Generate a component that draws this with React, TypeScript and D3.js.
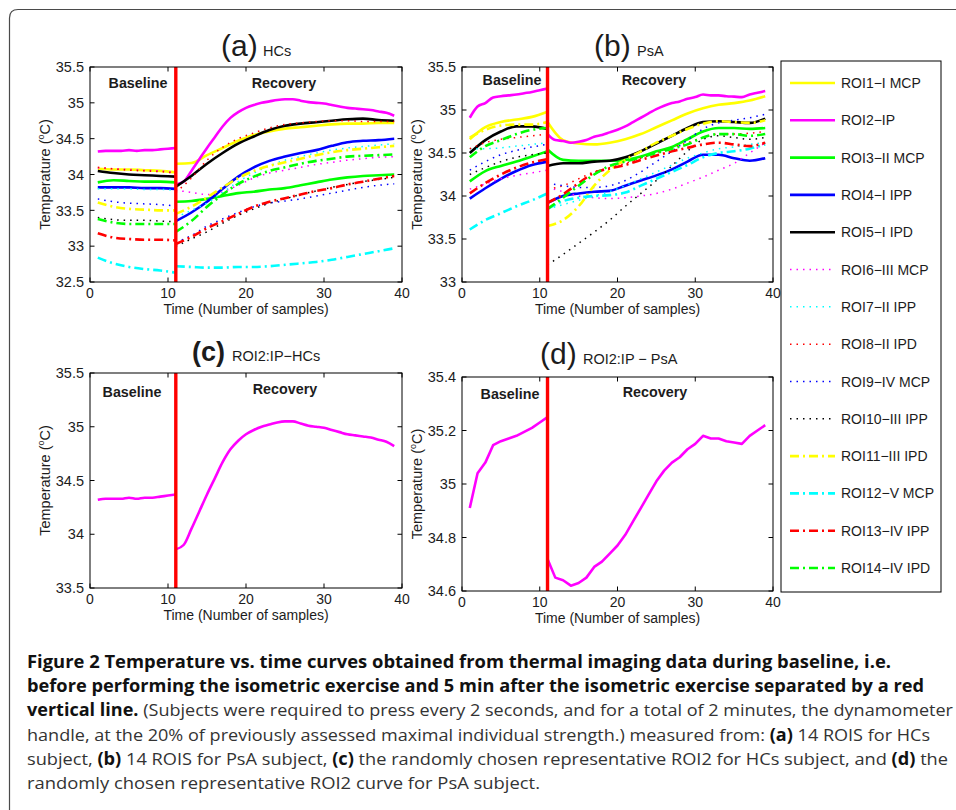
import * as d3 from "d3"

// ---- data ----
const sampleBase = [1, 2, 3, 4, 5, 6, 7, 8, 9, 10, 11]
const sampleRec = [11, 12, 13, 14, 15, 16, 17, 18, 19, 20, 21, 22, 23, 24, 25, 26, 27, 28, 29, 30, 31, 32, 33, 34, 35, 36, 37, 38, 39]
const knotBase = [1, 3, 5, 7, 9, 11]
const knotRec = [11, 13, 15, 17, 19, 21, 23, 25, 27, 29, 31, 33, 35, 37, 39]

const roiNames = [
	"ROI1−I MCP",
	"ROI2−IP",
	"ROI3−II MCP",
	"ROI4−I IPP",
	"ROI5−I IPD",
	"ROI6−III MCP",
	"ROI7−II IPP",
	"ROI8−II IPD",
	"ROI9−IV MCP",
	"ROI10−III IPP",
	"ROI11−III IPD",
	"ROI12−V MCP",
	"ROI13−IV IPP",
	"ROI14−IV IPD",
]

const hcTicks = [32.5, 33, 33.5, 34, 34.5, 35, 35.5]
const psaTicks = [33, 33.5, 34, 34.5, 35, 35.5]
const hcRoi2Ticks = [33.5, 34, 34.5, 35, 35.5]
const psaRoi2Ticks = [34.6, 34.8, 35, 35.2, 35.4]
const timeTicks = [0, 10, 20, 30, 40]

// ROI2 is read at every sample (panels c and d), the others at knotBase / knotRec
const hcRoi2Baseline = [34.32, 34.33, 34.33, 34.33, 34.34, 34.33, 34.34, 34.34, 34.35, 34.36, 34.37]
const hcRoi2Recovery = [
	33.86, 33.9, 34.05, 34.21, 34.37, 34.52, 34.67, 34.79, 34.87, 34.93, 34.97, 35.0, 35.02, 35.04, 35.05,
	35.05, 35.03, 35.01, 35.0, 34.99, 34.97, 34.95, 34.93, 34.92, 34.91, 34.9, 34.88, 34.86, 34.82,
]
const psaRoi2Baseline = [34.91, 35.04, 35.08, 35.145, 35.16, 35.17, 35.18, 35.195, 35.21, 35.23, 35.25]
const psaRoi2Recovery = [
	34.72, 34.65, 34.64, 34.62, 34.63, 34.65, 34.69, 34.71, 34.74, 34.77, 34.81, 34.86, 34.91, 34.96, 35.01,
	35.05, 35.08, 35.1, 35.13, 35.15, 35.18, 35.17, 35.17, 35.16, 35.155, 35.15, 35.18, 35.2, 35.22,
]

const hcBaseline = [
	[34.08, 34.07, 34.07, 34.06, 34.05, 34.03],
	null,
	[33.89, 33.92, 33.91, 33.9, 33.9, 33.89],
	[33.82, 33.82, 33.82, 33.81, 33.81, 33.8],
	[34.05, 34.02, 34.0, 33.99, 33.98, 33.97],
	[34.09, 34.08, 34.07, 34.06, 34.05, 34.03],
	[33.8, 33.8, 33.8, 33.79, 33.79, 33.78],
	[34.1, 34.08, 34.06, 34.05, 34.04, 34.02],
	[33.66, 33.62, 33.6, 33.59, 33.58, 33.56],
	[33.4, 33.37, 33.36, 33.36, 33.35, 33.34],
	[33.61, 33.55, 33.52, 33.51, 33.5, 33.5],
	[32.84, 32.76, 32.71, 32.68, 32.66, 32.63],
	[33.18, 33.12, 33.1, 33.09, 33.09, 33.08],
	[33.38, 33.33, 33.31, 33.31, 33.31, 33.31],
]

const hcRecovery = [
	[34.15, 34.16, 34.27, 34.37, 34.47, 34.55, 34.6, 34.64, 34.66, 34.68, 34.7, 34.71, 34.71, 34.72, 34.72],
	null,
	[33.62, 33.63, 33.66, 33.7, 33.74, 33.76, 33.79, 33.81, 33.85, 33.89, 33.93, 33.96, 33.98, 33.99, 34.0],
	[33.35, 33.47, 33.62, 33.8, 33.97, 34.1, 34.19, 34.25, 34.3, 34.34, 34.4, 34.45, 34.47, 34.48, 34.5],
	[33.83, 33.98, 34.15, 34.3, 34.43, 34.53, 34.62, 34.68, 34.71, 34.73, 34.75, 34.77, 34.78, 34.76, 34.75],
	[33.78, 33.75, 33.72, 33.76, 33.85, 33.95, 34.02, 34.06, 34.1, 34.14, 34.17, 34.2, 34.22, 34.24, 34.25],
	[33.4, 33.5, 33.6, 33.75, 33.9, 34.02, 34.12, 34.2, 34.25, 34.3, 34.34, 34.37, 34.39, 34.41, 34.43],
	[33.75, 33.95, 34.2, 34.38, 34.5, 34.58, 34.65, 34.7, 34.72, 34.74, 34.75, 34.75, 34.74, 34.74, 34.74],
	[33.05, 33.15, 33.28, 33.38, 33.47, 33.55, 33.6, 33.63, 33.66, 33.7, 33.74, 33.78, 33.82, 33.85, 33.87],
	[33.0, 33.1, 33.2, 33.32, 33.43, 33.52, 33.6, 33.66, 33.72, 33.77, 33.82, 33.86, 33.9, 33.93, 33.96],
	[33.45, 33.55, 33.68, 33.82, 33.95, 34.05, 34.12, 34.17, 34.22, 34.27, 34.31, 34.34, 34.36, 34.38, 34.4],
	[32.72, 32.71, 32.7, 32.7, 32.71, 32.71, 32.72, 32.74, 32.76, 32.78, 32.81, 32.85, 32.89, 32.93, 32.97],
	[33.03, 33.13, 33.25, 33.35, 33.45, 33.55, 33.62, 33.67, 33.72, 33.77, 33.81, 33.86, 33.9, 33.94, 33.98],
	[33.2, 33.35, 33.55, 33.72, 33.87, 33.97, 34.05, 34.1, 34.15, 34.19, 34.22, 34.25, 34.26, 34.27, 34.28],
]

const psaBaseline = [
	[34.66, 34.8, 34.86, 34.89, 34.92, 34.98],
	null,
	[34.17, 34.29, 34.35, 34.4, 34.46, 34.52],
	[33.97, 34.09, 34.2, 34.29, 34.36, 34.4],
	[34.5, 34.65, 34.75, 34.81, 34.81, 34.78],
	[34.08, 34.14, 34.2, 34.24, 34.27, 34.3],
	[34.55, 34.55, 34.56, 34.58, 34.6, 34.62],
	[34.55, 34.62, 34.66, 34.68, 34.7, 34.72],
	[34.3, 34.4, 34.48, 34.53, 34.57, 34.6],
	[34.25, 34.33, 34.4, 34.45, 34.48, 34.5],
	[34.68, 34.77, 34.82, 34.83, 34.83, 34.86],
	[33.61, 33.72, 33.8, 33.88, 33.95, 34.03],
	[34.03, 34.15, 34.25, 34.33, 34.39, 34.43],
	[34.45, 34.58, 34.65, 34.72, 34.77, 34.79],
]

const psaRecovery = [
	[34.86, 34.65, 34.61, 34.6, 34.62, 34.66, 34.72, 34.8, 34.88, 34.96, 35.02, 35.06, 35.08, 35.11, 35.16],
	null,
	[34.54, 34.42, 34.41, 34.41, 34.41, 34.42, 34.46, 34.52, 34.57, 34.66, 34.75, 34.79, 34.79, 34.78, 34.79],
	[33.92, 34.0, 34.03, 34.05, 34.06, 34.12, 34.18, 34.24, 34.31, 34.4, 34.48, 34.48, 34.44, 34.41, 34.44],
	[34.35, 34.38, 34.38, 34.4, 34.41, 34.45, 34.52, 34.61, 34.7, 34.79, 34.86, 34.87, 34.86, 34.85, 34.9],
	[34.1, 34.05, 34.0, 33.98, 33.97, 33.98, 34.0, 34.03, 34.08, 34.15, 34.22, 34.3, 34.38, 34.5, 34.62],
	[33.85, 33.9, 33.95, 34.0, 34.05, 34.12, 34.2, 34.28, 34.36, 34.44, 34.5, 34.55, 34.57, 34.6, 34.62],
	[34.08, 34.12, 34.2, 34.28, 34.33, 34.38, 34.44, 34.5, 34.56, 34.62, 34.68, 34.72, 34.72, 34.73, 34.75],
	[34.15, 34.12, 34.1, 34.1, 34.12, 34.18, 34.28, 34.4, 34.52, 34.65, 34.78, 34.85, 34.88, 34.91, 34.95],
	[33.2, 33.32, 33.45, 33.58, 33.72, 33.88, 34.03, 34.18, 34.35, 34.52, 34.66, 34.7, 34.68, 34.66, 34.68],
	[33.65, 33.72, 33.88, 34.12, 34.3, 34.42, 34.52, 34.62, 34.7, 34.78, 34.84, 34.87, 34.86, 34.85, 34.88],
	[33.85, 33.94, 33.98, 34.0, 34.01, 34.04, 34.12, 34.2, 34.28, 34.36, 34.45, 34.5, 34.52, 34.55, 34.6],
	[33.92, 34.02, 34.15, 34.27, 34.32, 34.36, 34.42, 34.47, 34.52, 34.56, 34.6, 34.62, 34.6, 34.58, 34.62],
	[33.85, 33.98, 34.12, 34.25, 34.35, 34.4, 34.45, 34.5, 34.55, 34.6, 34.68, 34.72, 34.72, 34.7, 34.72],
]

const captionLines = [
	[["b", "Figure 2 Temperature vs. time curves obtained from thermal imaging data during baseline, i.e."]],
	[["b", "before performing the isometric exercise and 5 min after the isometric exercise separated by a red"]],
	[
		["b", "vertical line."],
		["r", " (Subjects were required to press every 2 seconds, and for a total of 2 minutes, the dynamometer"],
	],
	[
		["r", "handle, at the 20% of previously assessed maximal individual strength.) measured from: "],
		["b", "(a)"],
		["r", " 14 ROIS for HCs"],
	],
	[
		["r", "subject, "],
		["b", "(b)"],
		["r", " 14 ROIS for PsA subject, "],
		["b", "(c)"],
		["r", " the randomly chosen representative ROI2 for HCs subject, and "],
		["b", "(d)"],
		["r", " the"],
	],
	[["r", "randomly chosen representative ROI2 curve for PsA subject."]],
]

const SPLIT_AT = 11

// ---- styles ----
const roiColors = [
	"#ffff00", "#ff00ff", "#00ff00", "#0000ff", "#000000",
	"#ff00ff", "#00ffff", "#ff0000", "#0000ff", "#000000",
	"#ffff00", "#00ffff", "#ff0000", "#00ff00",
]
const styleOf = (i) => {
	if (i < 5) return { width: 2.6, dash: null }
	if (i < 10) return { width: 1.5, dash: "1.5 5" }
	return { width: 2.6, dash: "9 4 2 4" }
}

const FONT = "'Liberation Sans', Arial, Helvetica, sans-serif"
const INK = "#1c1c1c"

function buildCurves(baseline, recovery, roi2Base, roi2Rec) {
	return roiNames.flatMap((_, i) =>
		i === 1
			? [
					{ roi: i, xs: sampleBase, ys: roi2Base },
					{ roi: i, xs: sampleRec, ys: roi2Rec },
			  ]
			: [
					{ roi: i, xs: knotBase, ys: baseline[i] },
					{ roi: i, xs: knotRec, ys: recovery[i] },
			  ]
	)
}

function Panel({ box, yDomain, yTicks, curves, title, sub, titleBold, titleSize, titleX, titleY, subX, baseLbl, recLbl, curve }) {
	const x = d3.scaleLinear().domain([0, 40]).range([box.left, box.right])
	const y = d3.scaleLinear().domain(yDomain).range([box.bottom, box.top])
	const line = d3
		.line()
		.x((d) => x(d[0]))
		.y((d) => y(d[1]))
		.curve(curve)
	const tick = 4.5
	const midY = (box.top + box.bottom) / 2
	const midX = (box.left + box.right) / 2

	return (
		<g>
			<defs>
				<clipPath id={`clip-${title}`}>
					<rect x={box.left} y={box.top} width={box.right - box.left} height={box.bottom - box.top} />
				</clipPath>
			</defs>
			<g clipPath={`url(#clip-${title})`}>
				{curves.map((c, k) => {
					const st = styleOf(c.roi)
					return (
						<path
							key={k}
							d={line(c.xs.map((v, j) => [v, c.ys[j]]))}
							fill="none"
							stroke={roiColors[c.roi]}
							strokeWidth={st.width}
							strokeDasharray={st.dash || undefined}
							strokeLinejoin="round"
						/>
					)
				})}
				<line x1={x(SPLIT_AT)} x2={x(SPLIT_AT)} y1={box.top} y2={box.bottom} stroke="#ff0000" strokeWidth={3.4} />
			</g>
			<rect
				x={box.left}
				y={box.top}
				width={box.right - box.left}
				height={box.bottom - box.top}
				fill="none"
				stroke="#000"
				strokeWidth={1}
			/>
			{timeTicks.map((t) => (
				<g key={`x${t}`}>
					<line x1={x(t)} x2={x(t)} y1={box.bottom} y2={box.bottom - tick} stroke="#000" />
					<line x1={x(t)} x2={x(t)} y1={box.top} y2={box.top + tick} stroke="#000" />
					<text x={x(t)} y={box.bottom + 15.5} textAnchor="middle" fontSize={14} fontFamily={FONT} fill={INK}>
						{t}
					</text>
				</g>
			))}
			{yTicks.map((t) => (
				<g key={`y${t}`}>
					<line x1={box.left} x2={box.left + tick} y1={y(t)} y2={y(t)} stroke="#000" />
					<line x1={box.right} x2={box.right - tick} y1={y(t)} y2={y(t)} stroke="#000" />
					<text
						x={box.left - 6}
						y={y(t)}
						dy="0.36em"
						textAnchor="end"
						fontSize={14.5}
						fontFamily={FONT}
						fill={INK}
					>
						{String(t)}
					</text>
				</g>
			))}
			<text x={midX} y={box.bottom + 32} textAnchor="middle" fontSize={14} fontFamily={FONT} fill={INK}>
				Time (Number of samples)
			</text>
			<text
				transform={`translate(${box.left - 40},${midY}) rotate(-90)`}
				textAnchor="middle"
				fontSize={14.5}
				fontFamily={FONT}
				fill={INK}
			>
				Temperature (
				<tspan fontSize={9} dy={-6}>
					o
				</tspan>
				<tspan dy={6}>C)</tspan>
			</text>
			<text x={titleX} y={titleY} fontFamily={FONT} fill={INK} fontSize={titleSize} fontWeight={titleBold ? "bold" : "normal"}>
				{title}
			</text>
			<text x={subX} y={titleY} fontFamily={FONT} fill={INK} fontSize={14.5} style={{ whiteSpace: "pre" }}>
				{sub}
			</text>
			<text x={baseLbl[0]} y={baseLbl[1]} dy="0.36em" textAnchor="middle" fontSize={14.3} fontWeight="bold" fontFamily={FONT} fill={INK}>
				Baseline
			</text>
			<text x={recLbl[0]} y={recLbl[1]} dy="0.36em" textAnchor="middle" fontSize={14.3} fontWeight="bold" fontFamily={FONT} fill={INK}>
				Recovery
			</text>
		</g>
	)
}

function Legend() {
	const box = { left: 781, top: 61, right: 941, bottom: 592 }
	const row = d3.scalePoint().domain(d3.range(roiNames.length)).range([83, 568])
	return (
		<g>
			<rect x={box.left} y={box.top} width={box.right - box.left} height={box.bottom - box.top} fill="#fff" stroke="#000" />
			{roiNames.map((name, i) => {
				const st = styleOf(i)
				const yy = row(i)
				return (
					<g key={name}>
						<line
							x1={790}
							x2={835}
							y1={yy}
							y2={yy}
							stroke={roiColors[i]}
							strokeWidth={st.width}
							strokeDasharray={st.dash || undefined}
						/>
						<text x={841} y={yy} dy="0.36em" fontSize={14} fontFamily={FONT} fill={INK}>
							{name}
						</text>
					</g>
				)
			})}
		</g>
	)
}

function Caption() {
	const widths = [864, 897, 926, 903, 921, 513]
	const left = 27
	const lineY = d3.scalePoint().domain(d3.range(captionLines.length)).range([668, 789])
	return (
		<g>
			{captionLines.map((parts, i) => (
				<text
					key={i}
					x={left}
					y={lineY(i)}
					fontSize={17}
					fontFamily="'Open Sans', 'Noto Sans', sans-serif"
					textLength={widths[i]}
					lengthAdjust="spacingAndGlyphs"
					style={{ whiteSpace: "pre" }}
				>
					{parts.map(([w, s], j) => (
						<tspan key={j} fontWeight={w === "b" ? "bold" : "normal"} fill={w === "b" ? "#111" : "#333"}>
							{s}
						</tspan>
					))}
				</text>
			))}
		</g>
	)
}

export default function App() {
	const hcCurves = buildCurves(hcBaseline, hcRecovery, hcRoi2Baseline, hcRoi2Recovery)
	const psaCurves = buildCurves(psaBaseline, psaRecovery, psaRoi2Baseline, psaRoi2Recovery)
	const roi2Hc = [
		{ roi: 1, xs: sampleBase, ys: hcRoi2Baseline },
		{ roi: 1, xs: sampleRec, ys: hcRoi2Recovery },
	]
	const roi2Psa = [
		{ roi: 1, xs: sampleBase, ys: psaRoi2Baseline },
		{ roi: 1, xs: sampleRec, ys: psaRoi2Recovery },
	]

	return (
		<svg
			width={956}
			height={810}
			style={{ position: "absolute", left: 0, top: 0, background: "#fff" }}
		>
			<rect width={956} height={810} fill="#fff" />
			<path d="M 9.5 811 L 9.5 18 Q 9.5 9.5 18 9.5 L 957 9.5" fill="none" stroke="#4a4a4a" strokeWidth={1.2} />
			<Panel
				box={{ left: 90, top: 67, right: 402, bottom: 282 }}
				yDomain={[32.5, 35.5]}
				yTicks={hcTicks}
				curves={hcCurves}
				curve={d3.curveMonotoneX}
				title="(a)"
				sub="HCs"
				titleSize={30}
				titleX={221}
				subX={263}
				titleY={56}
				baseLbl={[138, 83]}
				recLbl={[284, 83]}
			/>
			<Panel
				box={{ left: 462, top: 67, right: 773, bottom: 282 }}
				yDomain={[33, 35.5]}
				yTicks={psaTicks}
				curves={psaCurves}
				curve={d3.curveMonotoneX}
				title="(b)"
				sub="PsA"
				titleSize={30}
				titleX={594}
				subX={637}
				titleY={56}
				baseLbl={[512, 80]}
				recLbl={[654, 80]}
			/>
			<Panel
				box={{ left: 90, top: 373, right: 402, bottom: 588 }}
				yDomain={[33.5, 35.5]}
				yTicks={hcRoi2Ticks}
				curves={roi2Hc}
				curve={d3.curveMonotoneX}
				title="(c)"
				sub="ROI2:IP−HCs"
				titleBold
				titleSize={27}
				titleX={192}
				subX={232}
				titleY={361}
				baseLbl={[132, 392]}
				recLbl={[285, 389]}
			/>
			<Panel
				box={{ left: 462, top: 377, right: 773, bottom: 591 }}
				yDomain={[34.6, 35.4]}
				yTicks={psaRoi2Ticks}
				curves={roi2Psa}
				curve={d3.curveLinear}
				title="(d)"
				sub="ROI2:IP − PsA"
				titleSize={30}
				titleX={540}
				subX={583}
				titleY={364}
				baseLbl={[510, 394]}
				recLbl={[655, 392]}
			/>
			<Legend />
			<Caption />
		</svg>
	)
}
